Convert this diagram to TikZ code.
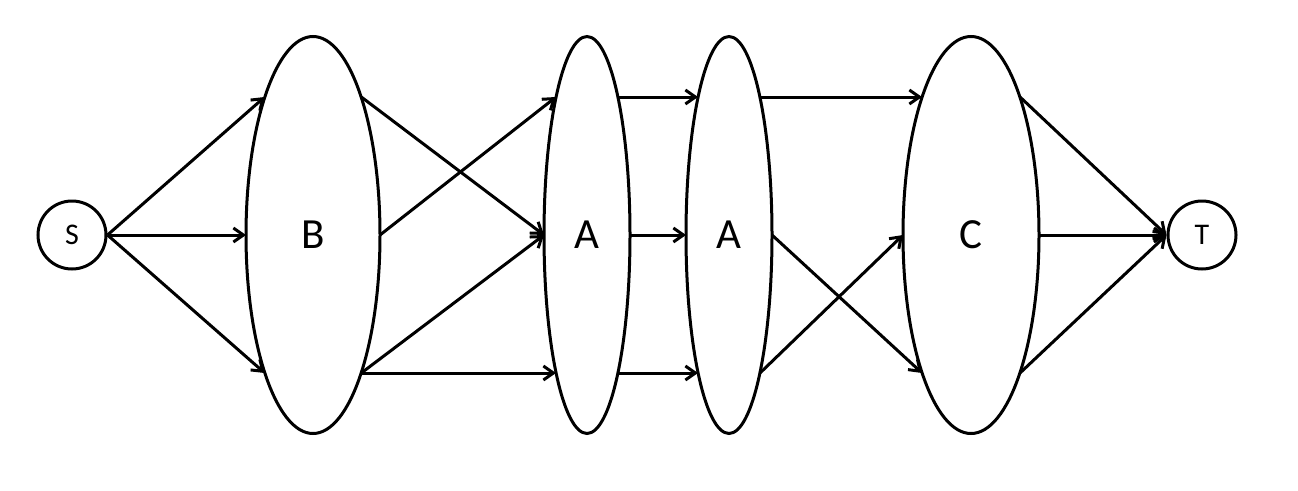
\documentclass[tikz,border=0pt]{standalone}
\usepackage{fontspec}
\setmainfont{Carlito}
\usetikzlibrary{shapes.geometric,arrows.meta}
\tikzset{
  term/.style={circle,draw,line width=3pt,minimum size=68pt,inner sep=0pt,font=\fontsize{30}{32}\selectfont},
  blob/.style={ellipse,draw,line width=3pt,inner sep=0pt,outer sep=0pt,minimum height=397pt,font=\fontsize{43}{45}\selectfont},
  conn/.style={line width=3pt,-{Straight Barb[length=10pt,width=14pt,line width=3pt]}}
}
\begin{document}
\begin{tikzpicture}[x=1pt,y=-1pt]
\useasboundingbox (0,0) rectangle (1298,490);
\node[term] (S) at (72,235) {S};
\node[term] (T) at (1202,235) {T};
\node[blob,minimum width=134pt] (B) at (313,235) {B};
\node[blob,minimum width=86pt] (A1) at (587,235) {A};
\node[blob,minimum width=86pt] (A2) at (729,235) {A};
\node[blob,minimum width=136pt] (C) at (971,235) {C};
% border points at 138px above/below the centre line
\foreach \n/\d in {B/48.3,A1/31,A2/31,C/49}{
  \coordinate (\n-ne) at ([shift={(\d,-138)}]\n.center);
  \coordinate (\n-nw) at ([shift={(-\d,-138)}]\n.center);
  \coordinate (\n-se) at ([shift={(\d,138)}]\n.center);
  \coordinate (\n-sw) at ([shift={(-\d,138)}]\n.center);
}
% S -> B
\draw[conn] (S.east) -- (B-nw);
\draw[conn] (S.east) -- (B.west);
\draw[conn] (S.east) -- (B-sw);
% B -> A1
\draw[conn] (B-ne) -- (A1.west);
\draw[conn] (B.east) -- (A1-nw);
\draw[conn] (B-se) -- (A1.west);
\draw[conn] (B-se) -- (A1-sw);
% A1 -> A2
\draw[conn] (A1-ne) -- (A2-nw);
\draw[conn] (A1.east) -- (A2.west);
\draw[conn] (A1-se) -- (A2-sw);
% A2 -> C
\draw[conn] (A2-ne) -- (C-nw);
\draw[conn] (A2.east) -- (C-sw);
\draw[conn] (A2-se) -- (C.west);
% C -> T
\draw[conn] (C-ne) -- (T.west);
\draw[conn] (C.east) -- (T.west);
\draw[conn] (C-se) -- (T.west);
\end{tikzpicture}
\end{document}
